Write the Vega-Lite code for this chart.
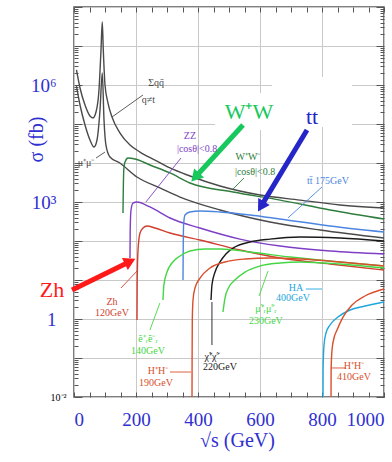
{
"$schema": "https://vega.github.io/schema/vega-lite/v6.json",
"width": 310, "height": 390,
"autosize": {"type": "none"},
"padding": {"left": 74, "top": 7, "right": 8, "bottom": 65},
"config": {"view": {"stroke": "#555", "strokeWidth": 1.5}, "axis": {"domain": false}},
"datasets": {
"curves": [
{"c":"qq","s":8,"v":2.43e6},{"c":"qq","s":19.4,"v":8.38e5},{"c":"qq","s":35.5,"v":3.07e5},{"c":"qq","s":51.6,"v":1.6e5},{"c":"qq","s":61.3,"v":1.43e5},{"c":"qq","s":71,"v":2.03e5},{"c":"qq","s":80.6,"v":7.45e5},{"c":"qq","s":87.1,"v":7.89e6},{"c":"qq","s":91.2,"v":4.12e7},{"c":"qq","s":94.5,"v":7.89e6},{"c":"qq","s":100,"v":1.0e6},{"c":"qq","s":109.7,"v":3.45e5},{"c":"qq","s":122.6,"v":1.51e5},{"c":"qq","s":148.4,"v":5.87e4},{"c":"qq","s":180.6,"v":2.9e4},{"c":"qq","s":212.9,"v":1.91e4},{"c":"qq","s":261.3,"v":1.19e4},{"c":"qq","s":309.7,"v":7450},{"c":"qq","s":374.2,"v":4640},{"c":"qq","s":471,"v":2570},{"c":"qq","s":600,"v":1510},{"c":"qq","s":729,"v":1120},{"c":"qq","s":858,"v":838},{"c":"qq","s":1000,"v":701},
{"c":"mumu","s":8,"v":9.42e5},{"c":"mumu","s":19.4,"v":3.07e5},{"c":"mumu","s":35.5,"v":9.42e4},{"c":"mumu","s":51.6,"v":3.89e4},{"c":"mumu","s":64.5,"v":2.57e4},{"c":"mumu","s":74.2,"v":3.89e4},{"c":"mumu","s":83.9,"v":2.29e5},{"c":"mumu","s":91.2,"v":2.03e6},{"c":"mumu","s":96.8,"v":1.26e5},{"c":"mumu","s":103,"v":2.88e4},{"c":"mumu","s":116,"v":1.43e4},{"c":"mumu","s":148,"v":1.0e4},{"c":"mumu","s":203,"v":4380},{"c":"mumu","s":277,"v":2290},{"c":"mumu","s":342,"v":1340},{"c":"mumu","s":471,"v":624},{"c":"mumu","s":632,"v":307},{"c":"mumu","s":794,"v":191},{"c":"mumu","s":1000,"v":119},
{"c":"WW","s":158,"v":523},{"c":"WW","s":159,"v":2030},{"c":"WW","s":160.6,"v":6620},{"c":"WW","s":164.5,"v":10600},{"c":"WW","s":174.2,"v":13400},{"c":"WW","s":196.8,"v":12700},{"c":"WW","s":245,"v":8890},{"c":"WW","s":309.7,"v":5550},{"c":"WW","s":374,"v":3070},{"c":"WW","s":513,"v":1800},{"c":"WW","s":665,"v":1120},{"c":"WW","s":826,"v":624},{"c":"WW","s":1000,"v":366},
{"c":"ZZ","s":180.6,"v":36.6},{"c":"ZZ","s":181.3,"v":191},{"c":"ZZ","s":183.9,"v":624},{"c":"ZZ","s":190.3,"v":942},{"c":"ZZ","s":203,"v":1000},{"c":"ZZ","s":245,"v":745},{"c":"ZZ","s":309.7,"v":389},{"c":"ZZ","s":406,"v":215},{"c":"ZZ","s":535,"v":112},{"c":"ZZ","s":665,"v":74.5},{"c":"ZZ","s":826,"v":55.5},{"c":"ZZ","s":1000,"v":46.5},
{"c":"Zh","s":203.2,"v":0.942},{"c":"Zh","s":203.9,"v":10},{"c":"Zh","s":206.5,"v":58.7},{"c":"Zh","s":212.9,"v":160},{"c":"Zh","s":222.6,"v":215},{"c":"Zh","s":235.5,"v":243},{"c":"Zh","s":261.3,"v":215},{"c":"Zh","s":309.7,"v":160},{"c":"Zh","s":406.5,"v":106},{"c":"Zh","s":535.5,"v":58.7},{"c":"Zh","s":664.5,"v":36.6},{"c":"Zh","s":825.8,"v":25.7},{"c":"Zh","s":1000,"v":18},
{"c":"tt","s":351.6,"v":10},{"c":"tt","s":352.3,"v":58.7},{"c":"tt","s":353.5,"v":257},{"c":"tt","s":358,"v":464},{"c":"tt","s":374,"v":555},{"c":"tt","s":406.5,"v":587},{"c":"tt","s":471,"v":555},{"c":"tt","s":567.7,"v":464},{"c":"tt","s":664.5,"v":366},{"c":"tt","s":825.8,"v":243},{"c":"tt","s":1000,"v":170},
{"c":"chi","s":442,"v":3.07},{"c":"chi","s":445,"v":7.45},{"c":"chi","s":455,"v":16},{"c":"chi","s":471,"v":29},{"c":"chi","s":490,"v":46.5},{"c":"chi","s":519,"v":70.2},{"c":"chi","s":568,"v":94.2},{"c":"chi","s":632,"v":112},{"c":"chi","s":729,"v":127},{"c":"chi","s":858,"v":119},{"c":"chi","s":1000,"v":100},
{"c":"sel","s":287,"v":3.07},{"c":"sel","s":290,"v":7.45},{"c":"sel","s":300,"v":16},{"c":"sel","s":316,"v":27.3},{"c":"sel","s":342,"v":41.2},{"c":"sel","s":374,"v":55.5},{"c":"sel","s":422.6,"v":62.4},{"c":"sel","s":471,"v":62.4},{"c":"sel","s":567.7,"v":52.2},{"c":"sel","s":696.8,"v":38.9},{"c":"sel","s":858,"v":29},{"c":"sel","s":1000,"v":22.9},
{"c":"smu","s":480.6,"v":1.51},{"c":"smu","s":487,"v":3.45},{"c":"smu","s":500,"v":6.62},{"c":"smu","s":519,"v":10},{"c":"smu","s":551.6,"v":16},{"c":"smu","s":600,"v":22.9},{"c":"smu","s":664.5,"v":27.3},{"c":"smu","s":729,"v":29},{"c":"smu","s":858,"v":25.7},{"c":"smu","s":1000,"v":20.3},
{"c":"HH190","s":380.6,"v":0.005},{"c":"HH190","s":380.97,"v":0.0889},{"c":"HH190","s":381.6,"v":0.942},{"c":"HH190","s":383.9,"v":3.07},{"c":"HH190","s":390.3,"v":6.24},{"c":"HH190","s":406.5,"v":11.2},{"c":"HH190","s":438.7,"v":20.3},{"c":"HH190","s":487,"v":29},{"c":"HH190","s":551.6,"v":34.5},{"c":"HH190","s":632,"v":36.6},{"c":"HH190","s":729,"v":34.5},{"c":"HH190","s":858,"v":29},{"c":"HH190","s":1000,"v":22.9},
{"c":"HA","s":803.2,"v":0.005},{"c":"HA","s":803.5,"v":0.0492},{"c":"HA","s":806.5,"v":0.215},{"c":"HA","s":812.9,"v":0.438},{"c":"HA","s":825.8,"v":0.702},{"c":"HA","s":851.6,"v":1.12},{"c":"HA","s":890.3,"v":1.7},{"c":"HA","s":938.7,"v":2.15},{"c":"HA","s":1000,"v":2.73},
{"c":"HH410","s":829,"v":0.005},{"c":"HH410","s":829.4,"v":0.0492},{"c":"HH410","s":832.3,"v":0.16},{"c":"HH410","s":838.7,"v":0.326},{"c":"HH410","s":848.4,"v":0.522},{"c":"HH410","s":867.7,"v":1.12},{"c":"HH410","s":896.8,"v":2.29},{"c":"HH410","s":938.7,"v":3.89},{"c":"HH410","s":1000,"v":5.87}
],
"boxes": [
{"s1":455,"s2":642,"v1":7.02e4,"v2":6.24e5},
{"s1":639,"s2":897,"v1":8.38e4,"v2":1.6e6}
],
"arrows": [
{"c":"qq","s":222.6,"v":5.55e5,"s2":122.6,"v2":1.51e5},
{"c":"mumu","s":71,"v":1.34e4,"s2":100,"v2":1.91e4},
{"c":"ZZ","s":345,"v":1.34e4,"s2":232,"v2":1000},
{"c":"WW","s":548,"v":4120,"s2":513,"v2":2150},
{"c":"tt","s":800,"v":2430,"s2":690,"v2":389},
{"c":"Zh","s":151.6,"v":6.24,"s2":206.5,"v2":18},
{"c":"sel","s":245,"v":0.522,"s2":277,"v2":2.57},
{"c":"HH190","s":309.7,"v":0.0437,"s2":377.4,"v2":0.0437},
{"c":"chi","s":445,"v":0.215,"s2":445,"v2":2.73},
{"c":"smu","s":597,"v":3.89,"s2":626,"v2":17},
{"c":"HA","s":748,"v":5.87,"s2":800,"v2":5.87},
{"c":"HH410","s":877,"v":0.0555,"s2":829,"v2":0.0555}
],
"bigarrows": [
{"c":"bigWW","s":545.2,"v":9.42e4,"s2":391,"v2":4300},
{"c":"bigtt","s":751.6,"v":7.02e4,"s2":603.2,"v2":771},
{"c":"bigZh","s":-6.5,"v":5.55,"s2":181,"v2":30}
],
"heads": [
{"c":"bigWW","s":391,"v":4300},
{"c":"bigtt","s":603.2,"v":771},
{"c":"bigZh","s":181,"v":30}
],
"labels": [
{"c":"qq","s":265,"v":1.1e6,"t":"Σqq̄"},
{"c":"qq","s":240,"v":4.2e5,"t":"q≠t"},
{"c":"mumu","s":38.7,"v":1.0e4,"t":"μ⁺μ⁻"},
{"c":"ZZ","s":374,"v":4.92e4,"t":"ZZ"},
{"c":"ZZ","s":396.8,"v":2.29e4,"t":"|cosθ|<0.8"},
{"c":"WW","s":561,"v":1.43e4,"t":"W⁺W⁻"},
{"c":"WW","s":584,"v":5870,"t":"|cosθ|<0.8"},
{"c":"tt","s":819,"v":3450,"t":"tt̄ 175GeV"},
{"c":"Zh","s":122.6,"v":2.73,"t":"Zh"},
{"c":"Zh","s":122.6,"v":1.43,"t":"120GeV"},
{"c":"sel","s":238.7,"v":0.307,"t":"ẽ⁺ᵣẽ⁻ᵣ"},
{"c":"sel","s":238.7,"v":0.151,"t":"140GeV"},
{"c":"HH190","s":271,"v":0.0464,"t":"H⁺H⁻"},
{"c":"HH190","s":264.5,"v":0.0229,"t":"190GeV"},
{"c":"chi","s":445,"v":0.106,"t":"χ̃⁺χ̃⁻"},
{"c":"chi","s":471,"v":0.0588,"t":"220GeV"},
{"c":"smu","s":619,"v":1.8,"t":"μ̃⁺ᵣμ̃⁻ᵣ"},
{"c":"smu","s":619,"v":0.889,"t":"230GeV"},
{"c":"HA","s":716,"v":6.24,"t":"HA"},
{"c":"HA","s":706.5,"v":3.45,"t":"400GeV"},
{"c":"HH410","s":903,"v":0.0624,"t":"H⁺H⁻"},
{"c":"HH410","s":903,"v":0.0326,"t":"410GeV"}
],
"biglabels": [
{"c":"bigWW","s":564.5,"v":2.03e5,"t":"W⁺W"},
{"c":"bigtt","s":767.7,"v":1.51e5,"t":"tt"},
{"c":"bigZh","s":-71,"v":5.55,"t":"Zh"}
]
},
"layer": [
{"data": {"name": "boxes"}, "mark": {"type": "rect", "color": "white"},
 "encoding": {"x": {"field": "s1", "type": "quantitative", "axis": null, "scale": {"domain": [0, 1000], "nice": false, "zero": false}},
  "x2": {"field": "s2"},
  "y": {"field": "v1", "type": "quantitative", "axis": null, "scale": {"type": "log", "domain": [0.01, 1e8], "nice": false}},
  "y2": {"field": "v2"}}},
{"data": {"name": "curves"}, "mark": {"type": "line", "interpolate": "monotone", "strokeWidth": 1.4, "clip": true},
 "encoding": {
  "x": {"field": "s", "type": "quantitative", "scale": {"domain": [0, 1000], "nice": false, "zero": false},
   "axis": {"orient": "bottom", "values": [0,50,100,150,200,250,300,350,400,450,500,550,600,650,700,750,800,850,900,950,1000], "format": "d",
    "labelExpr": "datum.value % 200 == 0 ? datum.label : ''", "grid": true, "gridColor": "#c9c9c9",
    "gridOpacity": {"condition": {"test": "datum.value % 200 == 0", "value": 1}, "value": 0},
    "tickSize": -5, "tickColor": "#555", "labelPadding": 18, "labelFont": "Liberation Serif", "labelFontSize": 19, "labelColor": "#3030d0",
    "labelFlush": true, "labelOverlap": false, "title": "√s (GeV)", "titleFont": "Liberation Serif", "titleFontSize": 20, "titleFontWeight": "normal",
    "titleColor": "#3030d0", "titleX": 163, "titleY": 43, "titleBaseline": "middle", "domain": false}},
  "y": {"field": "v", "type": "quantitative", "scale": {"type": "log", "domain": [0.01, 1e8], "nice": false},
   "axis": {"orient": "left", "values": [0.01,0.02,0.03,0.04,0.05,0.06,0.07,0.08,0.09,0.1,0.2,0.3,0.4,0.5,0.6,0.7,0.8,0.9,1,2,3,4,5,6,7,8,9,10,20,30,40,50,60,70,80,90,100,200,300,400,500,600,700,800,900,1000,2000,3000,4000,5000,6000,7000,8000,9000,10000,20000,30000,40000,50000,60000,70000,80000,90000,100000,200000,300000,400000,500000,600000,700000,800000,900000,1000000,2000000,3000000,4000000,5000000,6000000,7000000,8000000,9000000,10000000,20000000,30000000,40000000,50000000,60000000,70000000,80000000,90000000,100000000],
    "labelExpr": "datum.value == 1000000 ? '10⁶' : datum.value == 1000 ? '10³' : datum.value == 1 ? '1' : datum.value == 0.01 ? '10⁻²' : ''",
    "grid": true, "gridColor": "#c9c9c9",
    "gridOpacity": {"condition": {"test": "abs(log(datum.value)/LN10 - round(log(datum.value)/LN10)) < 0.01", "value": 1}, "value": 0},
    "tickSize": {"condition": {"test": "abs(log(datum.value)/LN10 - round(log(datum.value)/LN10)) < 0.01", "value": -8}, "value": -4},
    "tickColor": "#555",
    "labelPadding": {"condition": {"test": "datum.value < 0.05", "value": 16}, "value": 26},
    "labelFont": "Liberation Serif",
    "labelFontSize": {"condition": {"test": "datum.value < 0.05", "value": 10}, "value": 19},
    "labelColor": {"condition": {"test": "datum.value < 0.05", "value": "black"}, "value": "#3030d0"},
    "labelOverlap": false, "labelBound": false,
    "title": "σ (fb)", "titleFont": "Liberation Serif", "titleFontSize": 20, "titleFontWeight": "normal", "titleColor": "#3030d0",
    "titleX": -38, "titleY": 132, "titleBaseline": "middle", "titleAngle": -90, "domain": false}},
  "color": {"field": "c", "type": "nominal", "legend": null,
   "scale": {"domain": ["qq","mumu","WW","ZZ","Zh","tt","chi","sel","smu","HH190","HA","HH410","bigWW","bigtt","bigZh"],
    "range": ["#4a4a4a","#4a4a4a","#2e7d3c","#7e3fc6","#cf3f2e","#4d86e0","#1a1a1a","#45d645","#45d645","#d94f2b","#1da6de","#d94f2b","#17c85c","#2525c8","#ff1a1a"]}}}},
{"data": {"name": "arrows"}, "mark": {"type": "rule", "strokeWidth": 0.9},
 "encoding": {"x": {"field": "s", "type": "quantitative", "axis": null}, "x2": {"field": "s2"},
  "y": {"field": "v", "type": "quantitative", "axis": null}, "y2": {"field": "v2"},
  "color": {"field": "c", "type": "nominal", "legend": null}}},
{"data": {"name": "bigarrows"}, "mark": {"type": "rule", "strokeWidth": 5, "clip": false},
 "encoding": {"x": {"field": "s", "type": "quantitative", "axis": null}, "x2": {"field": "s2"},
  "y": {"field": "v", "type": "quantitative", "axis": null}, "y2": {"field": "v2"},
  "color": {"field": "c", "type": "nominal", "legend": null}}},
{"data": {"name": "heads"}, "transform": [{"filter": "datum.c == 'bigWW'"}],
 "mark": {"type": "point", "shape": "triangle-up", "filled": true, "opacity": 1, "size": 180, "angle": 222},
 "encoding": {"x": {"field": "s", "type": "quantitative", "axis": null}, "y": {"field": "v", "type": "quantitative", "axis": null},
  "color": {"field": "c", "type": "nominal", "legend": null}}},
{"data": {"name": "heads"}, "transform": [{"filter": "datum.c == 'bigtt'"}],
 "mark": {"type": "point", "shape": "triangle-up", "filled": true, "opacity": 1, "size": 180, "angle": 211},
 "encoding": {"x": {"field": "s", "type": "quantitative", "axis": null}, "y": {"field": "v", "type": "quantitative", "axis": null},
  "color": {"field": "c", "type": "nominal", "legend": null}}},
{"data": {"name": "heads"}, "transform": [{"filter": "datum.c == 'bigZh'"}],
 "mark": {"type": "point", "shape": "triangle-up", "filled": true, "opacity": 1, "size": 180, "angle": 64},
 "encoding": {"x": {"field": "s", "type": "quantitative", "axis": null}, "y": {"field": "v", "type": "quantitative", "axis": null},
  "color": {"field": "c", "type": "nominal", "legend": null}}},
{"data": {"name": "labels"}, "mark": {"type": "text", "font": "Liberation Serif", "fontSize": 10, "align": "center", "baseline": "middle"},
 "encoding": {
  "x": {"field": "s", "type": "quantitative",
   "axis": {"orient": "top", "values": [0,50,100,150,200,250,300,350,400,450,500,550,600,650,700,750,800,850,900,950,1000], "labels": false, "grid": false, "tickSize": -5, "tickColor": "#555", "title": null, "domain": false}},
  "y": {"field": "v", "type": "quantitative",
   "axis": {"orient": "right", "values": [0.01,0.02,0.03,0.04,0.05,0.06,0.07,0.08,0.09,0.1,0.2,0.3,0.4,0.5,0.6,0.7,0.8,0.9,1,2,3,4,5,6,7,8,9,10,20,30,40,50,60,70,80,90,100,200,300,400,500,600,700,800,900,1000,2000,3000,4000,5000,6000,7000,8000,9000,10000,20000,30000,40000,50000,60000,70000,80000,90000,100000,200000,300000,400000,500000,600000,700000,800000,900000,1000000,2000000,3000000,4000000,5000000,6000000,7000000,8000000,9000000,10000000,20000000,30000000,40000000,50000000,60000000,70000000,80000000,90000000,100000000],
    "labels": false, "grid": false,
    "tickSize": {"condition": {"test": "abs(log(datum.value)/LN10 - round(log(datum.value)/LN10)) < 0.01", "value": -8}, "value": -4},
    "tickColor": "#555", "title": null, "domain": false}},
  "text": {"field": "t"},
  "color": {"field": "c", "type": "nominal", "legend": null}}},
{"data": {"name": "biglabels"}, "mark": {"type": "text", "font": "Liberation Serif", "fontSize": 22, "align": "center", "baseline": "middle", "clip": false},
 "encoding": {"x": {"field": "s", "type": "quantitative", "axis": null}, "y": {"field": "v", "type": "quantitative", "axis": null},
  "text": {"field": "t"},
  "color": {"field": "c", "type": "nominal", "legend": null}}}
]
}
